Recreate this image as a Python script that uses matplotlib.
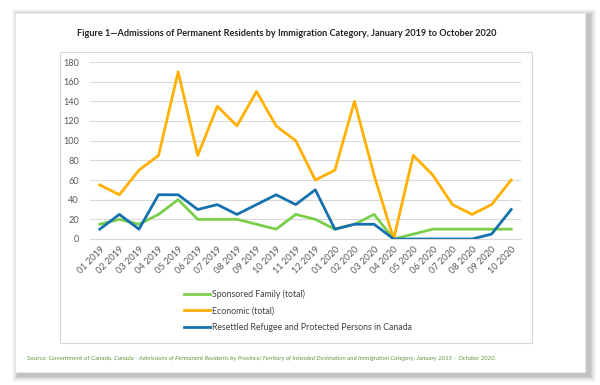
import matplotlib
matplotlib.use("Agg")
import matplotlib.pyplot as plt
from matplotlib.patches import Rectangle

plt.rcParams["font.family"] = ["Lato", "DejaVu Sans"]

months = ["01 2019", "02 2019", "03 2019", "04 2019", "05 2019", "06 2019",
          "07 2019", "08 2019", "09 2019", "10 2019", "11 2019", "12 2019",
          "01 2020", "02 2020", "03 2020", "04 2020", "05 2020", "06 2020",
          "07 2020", "08 2020", "09 2020", "10 2020"]
sponsored = [15, 20, 15, 25, 40, 20, 20, 20, 15, 10, 25, 20,
             10, 15, 25, 0, 5, 10, 10, 10, 10, 10]
economic = [55, 45, 70, 85, 170, 85, 135, 115, 150, 115, 100, 60,
            70, 140, 65, 0, 85, 65, 35, 25, 35, 60]
refugee = [10, 25, 10, 45, 45, 30, 35, 25, 35, 45, 35, 50,
           10, 15, 15, 0, 0, 0, 0, 0, 5, 30]
yticks = [0, 20, 40, 60, 80, 100, 120, 140, 160, 180]

W, H = 600, 385
fig = plt.figure(figsize=(6, 3.85), dpi=100)
fig.patch.set_facecolor("white")


def px(x0, y0, x1, y1):
    # pixel box (top-left origin) -> figure fraction rect
    return (x0 / W, 1 - y1 / H, (x1 - x0) / W, (y1 - y0) / H)


# soft shadow behind the page card
for i, a in enumerate([0.05, 0.06, 0.08, 0.10, 0.13, 0.16]):
    d = 7 - i
    x, y, w, h = px(15 - d + 4, 13 - d + 3, 585 + d + 4, 372 + d + 3)
    fig.patches.append(Rectangle((x, y), w, h, transform=fig.transFigure,
                                 facecolor="#808080", alpha=a, edgecolor="none", zorder=0))
x, y, w, h = px(15, 13, 585, 372)
fig.patches.append(Rectangle((x, y), w, h, transform=fig.transFigure,
                             facecolor="white", edgecolor="#e6e6e6", lw=0.6, zorder=1))
# chart area border
x, y, w, h = px(60, 52, 532, 343)
fig.patches.append(Rectangle((x, y), w, h, transform=fig.transFigure,
                             facecolor="white", edgecolor="#d9d9d9", lw=0.8, zorder=2))

fig.text(287 / W, 1 - 33 / H,
         "Figure 1\u2014Admissions of Permanent Residents by Immigration Category, January 2019 to October 2020",
         ha="center", va="center", fontsize=6.6, fontweight="bold", color="#222222", zorder=3)

ax = fig.add_axes(px(90, 62, 521, 239), zorder=4)
ax.set_facecolor("none")
xs = list(range(len(months)))
ax.plot(xs, sponsored, color="#7ACF4A", lw=2, label="Sponsored Family (total)", solid_joinstyle="round")
ax.plot(xs, economic, color="#FFB000", lw=2, label="Economic (total)", solid_joinstyle="round")
ax.plot(xs, refugee, color="#1672AE", lw=2, label="Resettled Refugee and Protected Persons in Canada",
        solid_joinstyle="round")

ax.set_xlim(-0.5, len(months) - 0.5)
ax.set_ylim(0, 180)
ax.set_yticks(yticks)
ax.set_xticks(xs)
ax.set_xticklabels(months, rotation=45, ha="right", rotation_mode="anchor")
ax.tick_params(axis="both", labelsize=6.6, colors="#595959", length=0)
ax.tick_params(axis="x", pad=4)
ax.tick_params(axis="y", pad=8)
ax.grid(axis="y", color="#d9d9d9", lw=0.8)
ax.set_axisbelow(True)
for s in ("top", "right", "left"):
    ax.spines[s].set_visible(False)
ax.spines["bottom"].set_color("#d9d9d9")
ax.spines["bottom"].set_linewidth(0.8)

leg = ax.legend(loc="upper left", bbox_to_anchor=((180 - 90) / 431, -(286 - 239) / 177),
                frameon=False, fontsize=6.3, handlelength=3.0, handletextpad=0.3,
                labelspacing=0.85, borderaxespad=0)
for t in leg.get_texts():
    t.set_color("#404040")

src_color = "#5c9a3c"
t1 = fig.text(27 / W, 1 - 358 / H, "Source: Government of Canada, ", fontsize=4.4,
              color=src_color, va="center", ha="left", zorder=3)
fig.canvas.draw()
bb = t1.get_window_extent()
fig.text(bb.x1 / (W), 1 - 358 / H,
         "Canada - Admissions of Permanent Residents by Province/Territory of Intended Destination "
         "and Immigration Category, January 2015 \u2013 October 2020.",
         fontsize=4.4, style="italic", color=src_color, va="center", ha="left", zorder=3)

fig.savefig("out.png", dpi=100)
